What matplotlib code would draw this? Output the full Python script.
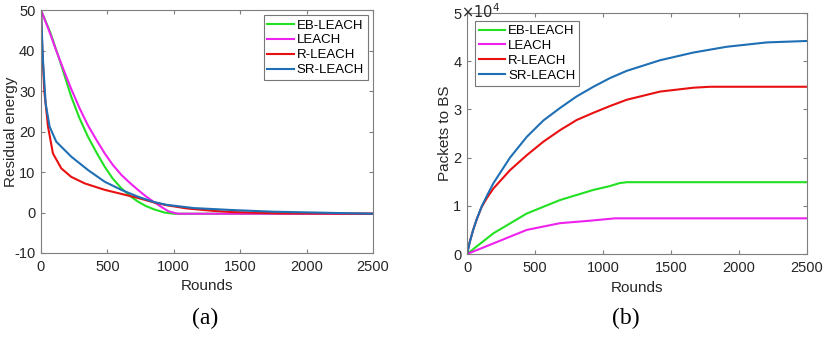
import numpy as np
import matplotlib
matplotlib.use('Agg')
import matplotlib.pyplot as plt
from matplotlib.ticker import FuncFormatter

plt.rcParams['font.family'] = ['Liberation Sans', 'DejaVu Sans']
plt.rcParams['axes.unicode_minus'] = False

labels = ['EB-LEACH', 'LEACH', 'R-LEACH', 'SR-LEACH']
colors = ['#22e022', '#ee22ee', '#e81010', '#1f6fb4']

# (a) residual energy
eb_x = [0, 70, 141, 228, 290, 354, 420, 480, 540, 605, 670, 730, 790, 850,
        930, 1000, 2500]
eb_y = [50, 44.5, 37.6, 28.6, 23.3, 18.7, 14.7, 11.3, 8.4, 6.0, 4.1, 2.7,
        1.6, 0.8, 0, -0.3, -0.3]
le_x = [0, 60, 115, 170, 228, 290, 354, 420, 480, 540, 605, 670, 730, 790,
        850, 910, 960, 1030, 2500]
le_y = [50, 45, 40, 35.3, 30.5, 25.8, 21.5, 17.8, 14.6, 11.8, 9.3, 7.3, 5.6,
        4.0, 2.6, 1.3, 0.3, -0.3, -0.3]
rl_x = [0, 10, 25, 53, 90, 153, 228, 329, 480, 605, 730, 850, 946,
        1100, 1300, 1446, 1800, 2500]
rl_y = [50, 40, 30, 21.2, 14.6, 10.9, 8.8, 7.2, 5.6, 4.6, 3.6, 2.5, 1.8,
        1.0, 0.4, 0.1, -0.2, -0.3]
sr_x = [0, 15, 35, 65, 115, 228, 354, 480, 605, 730, 850, 946, 1150, 1446,
        1750, 2050, 2500]
sr_y = [50, 37.6, 27, 21.2, 17.5, 13.8, 10.5, 7.6, 5.6, 3.9, 2.6, 1.9, 1.1,
        0.6, 0.2, 0, -0.3]

# (b) packets to BS
pb_eb_x = [0, 194, 439, 684, 929, 1051, 1120, 1174, 2500]
pb_eb_y = [0, 4300, 8400, 11200, 13300, 14100, 14700, 14900, 14900]
pb_le_x = [0, 194, 439, 684, 900, 1051, 1088, 2500]
pb_le_y = [0, 2200, 5000, 6400, 6900, 7300, 7400, 7400]
pb_rl_x = [0, 20, 45, 71, 108, 150, 194, 316, 439, 561, 684, 806, 929, 1051,
           1174, 1419, 1664, 1787, 2500]
pb_rl_y = [0, 2500, 5000, 7200, 9800, 11800, 13600, 17400, 20500, 23300,
           25700, 27800, 29300, 30700, 32000, 33700, 34500, 34700, 34700]
pb_sr_x = [0, 20, 45, 71, 108, 150, 194, 316, 439, 561, 684, 806, 929, 1051,
           1174, 1419, 1664, 1910, 2204, 2500]
pb_sr_y = [0, 2500, 5000, 7200, 9900, 12300, 14700, 20000, 24300, 27700,
           30300, 32700, 34700, 36500, 38000, 40200, 41800, 43000, 43900, 44200]

fig = plt.figure(figsize=(8.23, 3.38), dpi=100)
ax1 = fig.add_axes([0.0498, 0.2515, 0.4034, 0.7185])
ax2 = fig.add_axes([0.5675, 0.2485, 0.4131, 0.713])

grey = '#7f7f7f'
txt = '#262626'


def style(ax):
    for s in ax.spines.values():
        s.set_color(grey)
        s.set_linewidth(0.8)
    ax.tick_params(direction='in', top=True, right=True, colors=grey,
                   labelcolor=txt, labelsize=10.5, length=3)
    ax.tick_params(axis='x', pad=5)
    ax.tick_params(axis='y', pad=4)


xs_a = [eb_x, le_x, rl_x, sr_x]
ys_a = [eb_y, le_y, rl_y, sr_y]
for x, y, c, l in zip(xs_a, ys_a, colors, labels):
    ax1.plot(x, y, color=c, lw=1.5, label=l)
ax1.set_xlim(0, 2500)
ax1.set_ylim(-10, 50)
ax1.set_xticks([0, 500, 1000, 1500, 2000, 2500])
ax1.set_yticks([-10, 0, 10, 20, 30, 40, 50])
ax1.set_xlabel('Rounds', fontsize=11, color=txt, labelpad=4)
ax1.set_ylabel('Residual energy', fontsize=11, color=txt)
ax1.yaxis.set_label_coords(-0.069, 0.5)
style(ax1)
leg1 = ax1.legend(loc='upper right', fontsize=9.5, frameon=True, fancybox=False,
                  handlelength=2.0, handletextpad=0.2, borderpad=0.3,
                  labelspacing=0.2, borderaxespad=0.4)
leg1.get_frame().set_edgecolor('#555555')
leg1.get_frame().set_linewidth(0.8)

xs_b = [pb_eb_x, pb_le_x, pb_rl_x, pb_sr_x]
ys_b = [pb_eb_y, pb_le_y, pb_rl_y, pb_sr_y]
for x, y, c, l in zip(xs_b, ys_b, colors, labels):
    ax2.plot(x, y, color=c, lw=1.5, label=l)
ax2.set_xlim(0, 2500)
ax2.set_ylim(0, 50000)
ax2.set_xticks([0, 500, 1000, 1500, 2000, 2500])
ax2.set_yticks([0, 10000, 20000, 30000, 40000, 50000])
ax2.yaxis.set_major_formatter(FuncFormatter(lambda v, p: '%g' % (v / 1e4)))
ax2.set_xlabel('Rounds', fontsize=11, color=txt, labelpad=4)
ax2.set_ylabel('Packets to BS', fontsize=11, color=txt)
ax2.yaxis.set_label_coords(-0.044, 0.5)
style(ax2)
ax2.text(-0.018, 0.979, r'$\times10^4$', transform=ax2.transAxes, fontsize=10.5,
         color=txt, ha='left', va='baseline')
leg2 = ax2.legend(loc='upper left', fontsize=9.5, frameon=True, fancybox=False,
                  handlelength=2.0, handletextpad=0.2, borderpad=0.3,
                  labelspacing=0.2, borderaxespad=0.6)
leg2.get_frame().set_edgecolor('#555555')
leg2.get_frame().set_linewidth(0.8)

fig.text(0.249, 0.04, '(a)', fontsize=17, family='Liberation Serif', ha='center')
fig.text(0.761, 0.04, '(b)', fontsize=17, family='Liberation Serif', ha='center')

fig.savefig('out.png', dpi=100)
